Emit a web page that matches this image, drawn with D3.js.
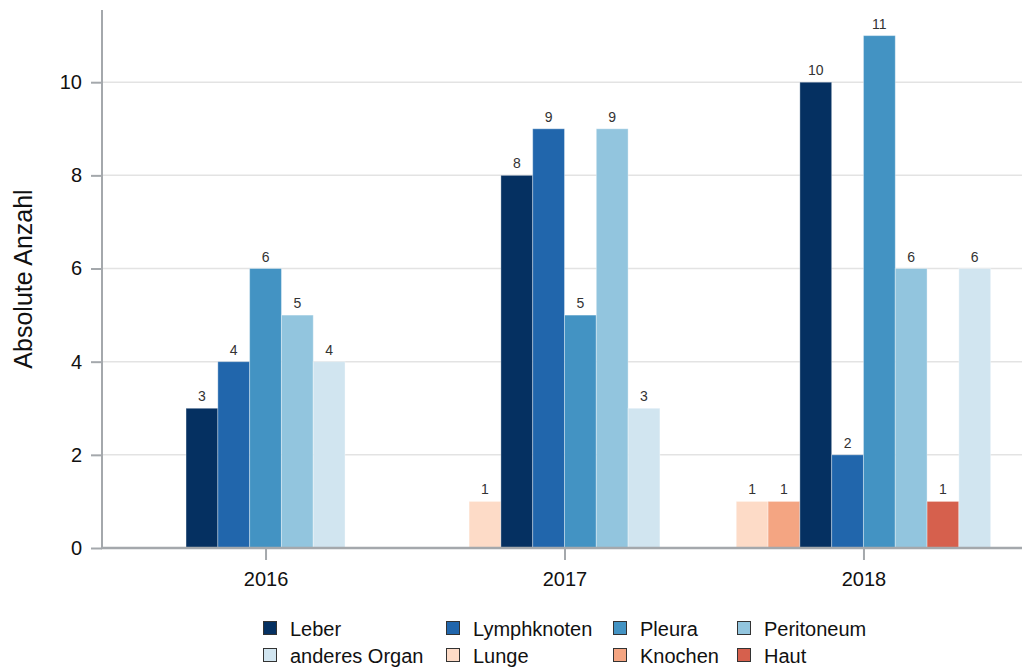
<!DOCTYPE html>
<html><head><meta charset="utf-8">
<script src="https://cdn.jsdelivr.net/npm/d3@7"></script>
<style>body{margin:0;background:#fff}svg{display:block;font-family:"Liberation Sans",Arial,sans-serif}</style>
</head><body><svg id="c" width="1022" height="668"></svg>
<script>
const years = ["2016","2017","2018"];
const organs = ["Lunge","Knochen","Leber","Lymphknoten","Pleura","Peritoneum","Haut","anderes Organ"];
const colors = ["#fddbc7","#f4a582","#053061","#2166ac","#4393c3","#92c5de","#d6604d","#d1e5f0"];
// counts per organ (in order of organs) for each year; null = not present
const values2016 = [null,null,3,4,6,5,null,4];
const values2017 = [1,null,8,9,5,9,null,3];
const values2018 = [1,1,10,2,11,6,1,6];
const legendOrder = ["Leber","Lymphknoten","Pleura","Peritoneum","anderes Organ","Lunge","Knochen","Haut"];
const yTicks = [0,2,4,6,8,10];
const yLabel = "Absolute Anzahl";

const valuesByYear = [values2016, values2017, values2018];
const svg = d3.select("#c");
const mLeft = 102, mRight = 1022, mTop = 10, mBottom = 548;
const yMax = 11.55;
const y = d3.scaleLinear().domain([0, yMax]).range([mBottom, mTop]);
const x = d3.scalePoint().domain(years).range([mLeft, 1027]).padding(0.547);
const barW = 31.8;
const color = d3.scaleOrdinal().domain(organs).range(colors);

// gridlines
svg.append("g").selectAll("line").data(yTicks.filter(d=>d>0)).join("line")
  .attr("x1", mLeft).attr("x2", mRight).attr("y1", d=>y(d)).attr("y2", d=>y(d))
  .attr("stroke", "#e3e3e3").attr("stroke-width", 1.5);

// bars
years.forEach((yr, yi) => {
  const vals = valuesByYear[yi];
  const present = organs.map((o,i)=>({organ:o, v:vals[i]})).filter(d=>d.v!=null);
  const n = present.length;
  const cx = x(yr);
  const g = svg.append("g");
  present.forEach((d,i) => {
    const x0 = cx + (i - n/2) * barW;
    g.append("rect").attr("x", x0).attr("y", y(d.v)).attr("width", barW).attr("height", y(0)-y(d.v))
      .attr("fill", color(d.organ)).attr("stroke", "rgba(255,255,255,0.35)").attr("stroke-width", 1);
    g.append("text").attr("x", x0 + barW/2).attr("y", y(d.v) - 7).attr("text-anchor","middle")
      .attr("font-size", 14).attr("fill", "#333").text(d.v);
  });
});

// y axis
const yAxis = d3.axisLeft(y).tickValues(yTicks).tickSize(11).tickPadding(9).tickFormat(d3.format("d"));
const ya = svg.append("g").attr("transform", `translate(${mLeft},0)`).call(yAxis);
ya.select(".domain").remove();
ya.selectAll(".tick line").attr("stroke", "#a4a8ac").attr("stroke-width", 2);
ya.selectAll(".tick text").attr("font-size", 20).attr("fill", "#111").attr("font-family", "Liberation Sans, Arial, sans-serif");
svg.append("line").attr("x1", mLeft).attr("x2", mLeft).attr("y1", mTop).attr("y2", mBottom+1)
  .attr("stroke", "#a4a8ac").attr("stroke-width", 2);

// x axis
const xAxis = d3.axisBottom(x).tickSize(12).tickPadding(12);
const xa = svg.append("g").attr("transform", `translate(0,${mBottom})`).call(xAxis);
xa.select(".domain").remove();
xa.selectAll(".tick line").attr("stroke", "#a4a8ac").attr("stroke-width", 2);
xa.selectAll(".tick text").attr("font-size", 20).attr("fill", "#111").attr("font-family", "Liberation Sans, Arial, sans-serif");
svg.append("line").attr("x1", mLeft-1).attr("x2", mRight).attr("y1", mBottom).attr("y2", mBottom)
  .attr("stroke", "#a4a8ac").attr("stroke-width", 2.5);

// y label
svg.append("text").attr("transform", `translate(32,${(190+368)/2}) rotate(-90)`)
  .attr("text-anchor","middle").attr("font-size", 25).attr("fill","#111").text(yLabel);

// legend
const colX = [263, 446, 613, 737];
const rowY = [636, 663];
legendOrder.forEach((o, i) => {
  const c = i % 4, r = Math.floor(i / 4);
  const g = svg.append("g").attr("transform", `translate(${colX[c]},${rowY[r]})`);
  g.append("rect").attr("x", 0.5).attr("y", -14.5).attr("width", 13).attr("height", 13)
    .attr("fill", color(o)).attr("stroke", "#333").attr("stroke-width", 1);
  g.append("text").attr("x", 27).attr("y", 0).attr("font-size", 20).attr("fill", "#111").text(o);
});
</script></body></html>
